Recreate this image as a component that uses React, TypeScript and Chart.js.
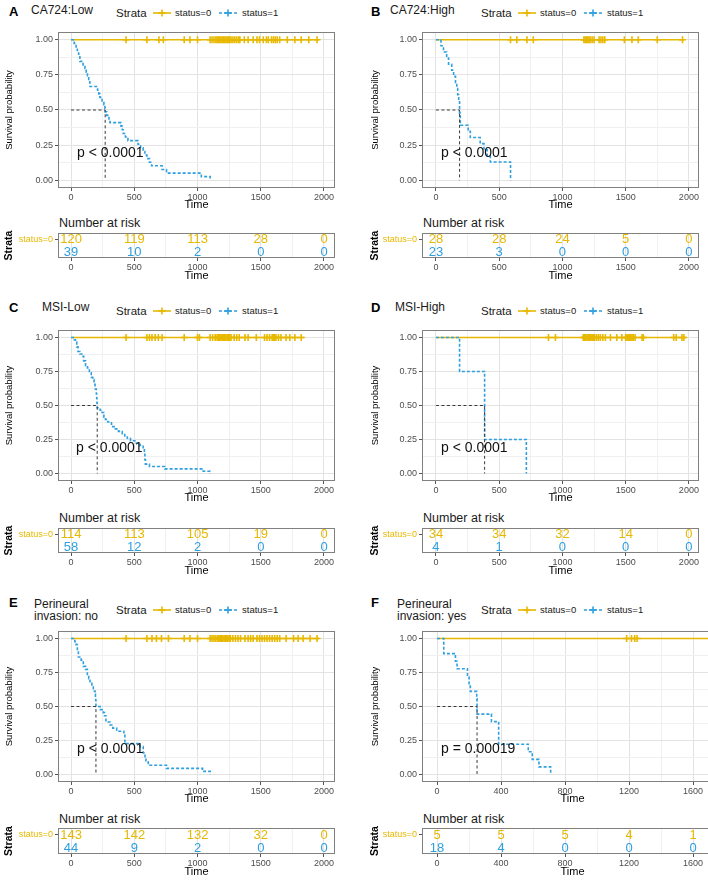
import React, { useEffect, useRef } from 'react';
import { Chart, registerables } from 'chart.js';
Chart.register(...registerables);

const FONT = '"Liberation Sans", Arial, Helvetica, sans-serif';
Chart.defaults.font.family = FONT;

const GOLD = '#E7B800';
const BLUE = '#2E9FDF';
const GRID_MAJOR = '#e3e3e3';
const GRID_MINOR = '#f0f0f0';
const FRAME = '#808080';
const TICK_TEXT = '#4d4d4d';

// ---------- data ----------
const STRATA = ['status=0', 'status=1'];
const TICKS_2000 = [0, 500, 1000, 1500, 2000];
const MINOR_2000 = [250, 750, 1250, 1750];
const TICKS_1600 = [0, 400, 800, 1200, 1600];
const MINOR_1600 = [200, 600, 1000, 1400];
const Y_MAJOR = [0, 0.25, 0.5, 0.75, 1];
const Y_MINOR = [0.125, 0.375, 0.625, 0.875];

// A: CA724 Low
const A_EVENT_TIME = [0, 25, 40, 50, 60, 70, 95, 110, 120, 130, 140, 148, 150, 210, 220, 228, 245, 260, 268, 270, 282, 300, 308, 395, 405, 413, 430, 450, 530, 550, 570, 584, 600, 620, 637, 720, 755, 1030, 1100];
const A_EVENT_SURV = [1, 0.974, 0.949, 0.923, 0.897, 0.846, 0.821, 0.795, 0.769, 0.744, 0.718, 0.692, 0.667, 0.641, 0.615, 0.59, 0.564, 0.538, 0.513, 0.487, 0.462, 0.436, 0.41, 0.385, 0.359, 0.333, 0.308, 0.282, 0.256, 0.231, 0.205, 0.179, 0.154, 0.128, 0.103, 0.077, 0.051, 0.026, 0];
const A_CENSOR = [435, 600, 695, 730, 895, 940, 1000, 1100, 1115, 1130, 1145, 1155, 1165, 1175, 1185, 1195, 1205, 1215, 1225, 1235, 1245, 1255, 1265, 1280, 1295, 1310, 1325, 1335, 1370, 1400, 1440, 1470, 1490, 1520, 1545, 1560, 1585, 1600, 1615, 1630, 1650, 1710, 1770, 1820, 1880, 1945];
const A_S0_END = 1960;
const A_MEDIAN = 270;
const A_RISK0 = [120, 119, 113, 28, 0];
const A_RISK1 = [39, 10, 2, 0, 0];

// B: CA724 High
const B_EVENT_TIME = [0, 40, 60, 85, 100, 125, 140, 155, 165, 172, 180, 187, 193, 255, 272, 350, 380, 405, 430, 590];
const B_EVENT_SURV = [1, 0.957, 0.913, 0.87, 0.826, 0.783, 0.739, 0.696, 0.652, 0.609, 0.565, 0.478, 0.391, 0.348, 0.304, 0.261, 0.217, 0.174, 0.13, 0];
const B_CENSOR = [590, 640, 720, 770, 1170, 1180, 1190, 1200, 1210, 1220, 1235, 1250, 1290, 1305, 1320, 1335, 1490, 1550, 1600, 1750, 1950];
const B_S0_END = 1960;
const B_MEDIAN = 187;
const B_RISK0 = [28, 28, 24, 5, 0];
const B_RISK1 = [23, 3, 0, 0, 0];

// C: MSI Low
const C_EVENT_TIME = [0, 25, 35, 45, 55, 70, 85, 100, 115, 130, 145, 160, 172, 182, 190, 200, 203, 205, 207, 230, 245, 260, 272, 290, 320, 350, 375, 405, 425, 445, 470, 505, 545, 570, 580, 584, 588, 620, 740, 1045, 1100];
const C_EVENT_SURV = [1, 0.983, 0.966, 0.931, 0.897, 0.879, 0.862, 0.828, 0.793, 0.776, 0.741, 0.707, 0.69, 0.655, 0.621, 0.586, 0.552, 0.517, 0.483, 0.466, 0.448, 0.414, 0.397, 0.379, 0.345, 0.328, 0.31, 0.293, 0.276, 0.259, 0.241, 0.224, 0.207, 0.19, 0.155, 0.103, 0.069, 0.052, 0.034, 0.017, 0];
const C_CENSOR = [435, 600, 620, 640, 665, 690, 720, 895, 1000, 1015, 1100, 1120, 1140, 1155, 1165, 1175, 1185, 1195, 1205, 1215, 1225, 1235, 1245, 1255, 1265, 1290, 1310, 1330, 1375, 1400, 1465, 1530, 1550, 1570, 1590, 1600, 1610, 1620, 1640, 1660, 1700, 1730, 1770, 1820];
const C_S0_END = 1845;
const C_MEDIAN = 207;
const C_RISK0 = [114, 113, 105, 19, 0];
const C_RISK1 = [58, 12, 2, 0, 0];

// D: MSI High
const D_EVENT_TIME = [0, 187, 385, 715];
const D_EVENT_SURV = [1, 0.75, 0.25, 0];
const D_CENSOR = [890, 945, 1165, 1175, 1185, 1195, 1205, 1215, 1225, 1235, 1245, 1255, 1270, 1285, 1300, 1320, 1340, 1380, 1430, 1470, 1500, 1510, 1520, 1530, 1540, 1550, 1560, 1575, 1630, 1640, 1880, 1900, 1945, 1960];
const D_S0_END = 1975;
const D_MEDIAN = 385;
const D_RISK0 = [34, 34, 32, 14, 0];
const D_RISK1 = [4, 1, 0, 0, 0];

// E: Perineural invasion no
const E_EVENT_TIME = [0, 30, 40, 50, 58, 80, 97, 115, 129, 140, 150, 165, 176, 190, 193, 195, 197, 230, 255, 265, 276, 308, 330, 361, 418, 426, 545, 571, 585, 592, 611, 755, 1040, 1100];
const E_EVENT_SURV = [1, 0.977, 0.955, 0.909, 0.864, 0.841, 0.795, 0.773, 0.727, 0.705, 0.682, 0.659, 0.614, 0.591, 0.568, 0.545, 0.5, 0.477, 0.455, 0.432, 0.386, 0.364, 0.341, 0.318, 0.295, 0.227, 0.205, 0.159, 0.114, 0.091, 0.068, 0.045, 0.023, 0];
const E_CENSOR = [435, 600, 640, 675, 715, 770, 895, 940, 1000, 1100, 1115, 1130, 1145, 1160, 1170, 1180, 1190, 1200, 1210, 1220, 1230, 1240, 1250, 1260, 1280, 1300, 1320, 1340, 1375, 1400, 1420, 1440, 1470, 1490, 1510, 1530, 1550, 1570, 1590, 1610, 1630, 1650, 1700, 1760, 1795, 1835, 1890, 1945];
const E_S0_END = 1960;
const E_MEDIAN = 197;
const E_RISK0 = [143, 142, 132, 32, 0];
const E_RISK1 = [44, 9, 2, 0, 0];

// F: Perineural invasion yes
const F_EVENT_TIME = [0, 42, 115, 125, 190, 200, 208, 248, 250, 340, 385, 570, 595, 637, 710];
const F_EVENT_SURV = [1, 0.889, 0.833, 0.778, 0.722, 0.667, 0.611, 0.556, 0.444, 0.389, 0.222, 0.167, 0.111, 0.056, 0];
const F_CENSOR = [1185, 1215, 1235, 1250, 1760];
const F_S0_END = 1790;
const F_MEDIAN = 250;
const F_RISK0 = [5, 5, 5, 4, 1];
const F_RISK1 = [18, 4, 0, 0, 0];

const P_SMALL = 'p < 0.0001';
const P_F = 'p = 0.00019';

type Panel = {
  letter: string; title: string[]; evT: number[]; evS: number[]; cens: number[];
  s0End: number; median: number; risk0: number[]; risk1: number[];
  major: number[]; minor: number[]; pText: string; pX: number;
  col: number; row: number; xMin: number; xMax: number; frameW: number; titleX: number;
};

const PANELS: Panel[] = [
  { letter: 'A', title: ['CA724:Low'], evT: A_EVENT_TIME, evS: A_EVENT_SURV, cens: A_CENSOR, s0End: A_S0_END, median: A_MEDIAN, risk0: A_RISK0, risk1: A_RISK1, major: TICKS_2000, minor: MINOR_2000, pText: P_SMALL, pX: 47, col: 0, row: 0, xMin: -103, xMax: 2087, frameW: 277, titleX: 31 },
  { letter: 'B', title: ['CA724:High'], evT: B_EVENT_TIME, evS: B_EVENT_SURV, cens: B_CENSOR, s0End: B_S0_END, median: B_MEDIAN, risk0: B_RISK0, risk1: B_RISK1, major: TICKS_2000, minor: MINOR_2000, pText: P_SMALL, pX: 40, col: 1, row: 0, xMin: -110, xMax: 2080, frameW: 277, titleX: 390 },
  { letter: 'C', title: ['MSI-Low'], evT: C_EVENT_TIME, evS: C_EVENT_SURV, cens: C_CENSOR, s0End: C_S0_END, median: C_MEDIAN, risk0: C_RISK0, risk1: C_RISK1, major: TICKS_2000, minor: MINOR_2000, pText: P_SMALL, pX: 40, col: 0, row: 1, xMin: -103, xMax: 2087, frameW: 277, titleX: 42 },
  { letter: 'D', title: ['MSI-High'], evT: D_EVENT_TIME, evS: D_EVENT_SURV, cens: D_CENSOR, s0End: D_S0_END, median: D_MEDIAN, risk0: D_RISK0, risk1: D_RISK1, major: TICKS_2000, minor: MINOR_2000, pText: P_SMALL, pX: 40, col: 1, row: 1, xMin: -110, xMax: 2080, frameW: 277, titleX: 395 },
  { letter: 'E', title: ['Perineural', 'invasion: no'], evT: E_EVENT_TIME, evS: E_EVENT_SURV, cens: E_CENSOR, s0End: E_S0_END, median: E_MEDIAN, risk0: E_RISK0, risk1: E_RISK1, major: TICKS_2000, minor: MINOR_2000, pText: P_SMALL, pX: 47, col: 0, row: 2, xMin: -103, xMax: 2087, frameW: 277, titleX: 34 },
  { letter: 'F', title: ['Perineural', 'invasion: yes'], evT: F_EVENT_TIME, evS: F_EVENT_SURV, cens: F_CENSOR, s0End: F_S0_END, median: F_MEDIAN, risk0: F_RISK0, risk1: F_RISK1, major: TICKS_1600, minor: MINOR_1600, pText: P_F, pX: 25, col: 1, row: 2, xMin: -94, xMax: 1787, frameW: 301, titleX: 397 },
];

// ---------- layout ----------
const COLS = [
  { canvasLeft: 0, yAxisW: 58, labelX: 9, legendX: 116 },
  { canvasLeft: 366, yAxisW: 56, labelX: 371, legendX: 481 },
];
const ROWS = [
  { labelY: 12, titleY: 10, legendY: 13, frameTop: 32, frameBottom: 188, narY: 223, riskTop: 233, riskBottom: 258 },
  { labelY: 308, titleY: 307, legendY: 311, frameTop: 330, frameBottom: 481, narY: 518, riskTop: 528, riskBottom: 553 },
  { labelY: 603, titleY: 604, legendY: 610, frameTop: 631, frameBottom: 782, narY: 819, riskTop: 828, riskBottom: 854 },
];
const RIGHT_PAD = 20;
const TOP_PAD = 10;

const isMajor = (v: number, major: number[]) => major.some((m) => Math.abs(m - v) < 1e-9);

const framePlugin = {
  id: 'frame',
  afterDatasetsDraw(chart: any) {
    const { ctx, chartArea: a } = chart;
    ctx.save();
    ctx.strokeStyle = FRAME;
    ctx.lineWidth = 1;
    ctx.strokeRect(Math.round(a.left) + 0.5, Math.round(a.top) + 0.5, Math.round(a.right - a.left) - 1, Math.round(a.bottom - a.top) - 1);
    ctx.restore();
  },
};

function xScaleOpts(p: Panel, height: number) {
  const all = [...p.major, ...p.minor].sort((a, b) => a - b);
  return {
    type: 'linear' as const,
    min: p.xMin,
    max: p.xMax,
    afterBuildTicks: (s: any) => { s.ticks = all.map((v) => ({ value: v })); },
    afterFit: (s: any) => { s.height = height; },
    border: { display: false },
    grid: {
      color: (ctx: any) => (ctx.tick && isMajor(ctx.tick.value, p.major) ? GRID_MAJOR : GRID_MINOR),
      tickColor: (ctx: any) => (ctx.tick && isMajor(ctx.tick.value, p.major) ? '#555555' : 'rgba(0,0,0,0)'),
      tickLength: 3,
    },
    ticks: {
      autoSkip: false, maxRotation: 0, padding: 1, color: TICK_TEXT,
      font: { size: 9, family: FONT },
      callback: (v: any) => (isMajor(Number(v), p.major) ? String(v) : ''),
    },
    title: { display: true, text: 'Time', color: '#000', font: { size: 11, family: FONT }, padding: { top: 0, bottom: 1 } },
  };
}

function KMChart({ p }: { p: Panel }) {
  const ref = useRef<HTMLCanvasElement>(null);
  const c = COLS[p.col];
  const r = ROWS[p.row];
  const top = r.frameTop - TOP_PAD;
  const H = r.frameBottom - r.frameTop + TOP_PAD + 25;
  const W = c.yAxisW + p.frameW + RIGHT_PAD;
  useEffect(() => {
    const evData = p.evT.map((t, i) => ({ x: t, y: p.evS[i] }));
    const cens = p.cens.map((t) => ({ x: t, y: 1 }));
    const s0 = [{ x: 0, y: 1 }, { x: p.s0End, y: 1 }];
    const med = [{ x: 0, y: 0.5 }, { x: p.median, y: 0.5 }, { x: p.median, y: 0 }];
    const yAll = [...Y_MAJOR, ...Y_MINOR].sort((a, b) => a - b);
    const pPlugin = {
      id: 'pval',
      afterDatasetsDraw(chart: any) {
        const { ctx, scales } = chart;
        ctx.save();
        ctx.font = `14px ${FONT}`;
        ctx.fillStyle = '#111';
        ctx.textAlign = 'left';
        ctx.textBaseline = 'middle';
        ctx.fillText(p.pText, scales.x.getPixelForValue(p.pX), scales.y.getPixelForValue(0.19));
        ctx.restore();
      },
    };
    const chart = new Chart(ref.current as HTMLCanvasElement, {
      type: 'line',
      data: {
        datasets: [
          { data: med, borderColor: '#3a3a3a', borderWidth: 1, borderDash: [3, 2.5], pointRadius: 0, fill: false, tension: 0 } as any,
          { data: evData, stepped: 'before', borderColor: BLUE, borderWidth: 1.6, borderDash: [3, 2], pointRadius: 0, fill: false } as any,
          { data: cens, showLine: false, pointStyle: 'cross', pointRadius: 3.5, pointBorderWidth: 1.6, pointBorderColor: GOLD, borderColor: GOLD, backgroundColor: GOLD } as any,
          { data: s0, borderColor: GOLD, borderWidth: 1.6, pointRadius: 0, fill: false } as any,
        ],
      },
      options: {
        responsive: false, animation: false, events: [],
        layout: { padding: { top: TOP_PAD, right: RIGHT_PAD, left: 0, bottom: 0 } },
        plugins: { legend: { display: false }, tooltip: { enabled: false } },
        scales: {
          x: xScaleOpts(p, 25) as any,
          y: {
            type: 'linear', min: -0.055, max: 1.055,
            afterBuildTicks: (s: any) => { s.ticks = yAll.map((v) => ({ value: v })); },
            afterFit: (s: any) => { s.width = c.yAxisW; },
            border: { display: false },
            grid: {
              color: (ctx: any) => (ctx.tick && isMajor(ctx.tick.value, Y_MAJOR) ? GRID_MAJOR : GRID_MINOR),
              tickColor: (ctx: any) => (ctx.tick && isMajor(ctx.tick.value, Y_MAJOR) ? '#555555' : 'rgba(0,0,0,0)'),
              tickLength: 3,
            },
            ticks: {
              autoSkip: false, padding: 2, color: TICK_TEXT, font: { size: 9, family: FONT },
              callback: (v: any) => (isMajor(Number(v), Y_MAJOR) ? Number(v).toFixed(2) : ''),
            },
            title: { display: true, text: 'Survival probability', color: '#000', font: { size: 9.5, family: FONT }, padding: { top: 4, bottom: 0 } },
          } as any,
        },
      },
      plugins: [framePlugin, pPlugin],
    });
    return () => chart.destroy();
  }, []);
  return <canvas ref={ref} width={W} height={H} style={{ position: 'absolute', left: c.canvasLeft, top, width: W, height: H }} />;
}

function RiskChart({ p }: { p: Panel }) {
  const ref = useRef<HTMLCanvasElement>(null);
  const c = COLS[p.col];
  const r = ROWS[p.row];
  const top = r.riskTop - TOP_PAD;
  const H = r.riskBottom - r.riskTop + TOP_PAD + 26;
  const W = c.yAxisW + p.frameW + RIGHT_PAD;
  useEffect(() => {
    const rows = [p.risk0, p.risk1];
    const numPlugin = {
      id: 'risknum',
      afterDatasetsDraw(chart: any) {
        const { ctx, scales } = chart;
        ctx.save();
        ctx.font = `13px ${FONT}`;
        ctx.textAlign = 'center';
        ctx.textBaseline = 'middle';
        rows.forEach((vals, ri) => {
          ctx.fillStyle = ri === 0 ? GOLD : BLUE;
          vals.forEach((v, i) => {
            ctx.fillText(String(v), scales.x.getPixelForValue(p.major[i]), scales.y.getPixelForValue(ri) + 0.5);
          });
        });
        ctx.restore();
      },
    };
    const chart = new Chart(ref.current as HTMLCanvasElement, {
      type: 'scatter',
      data: { datasets: [{ data: [] }] },
      options: {
        responsive: false, animation: false, events: [],
        layout: { padding: { top: TOP_PAD, right: RIGHT_PAD, left: 0, bottom: 0 } },
        plugins: { legend: { display: false }, tooltip: { enabled: false } },
        scales: {
          x: xScaleOpts(p, 26) as any,
          y: {
            type: 'category', labels: STRATA, offset: true,
            afterFit: (s: any) => { s.width = c.yAxisW; },
            border: { display: false },
            grid: { drawOnChartArea: false, tickColor: '#555555', tickLength: 3 },
            ticks: {
              padding: 2, font: { size: 9, family: FONT },
              color: (ctx: any) => (ctx.index === 0 ? GOLD : BLUE),
            },
            title: { display: true, text: 'Strata', color: '#000', font: { size: 10.5, weight: 'bold', family: FONT }, padding: { top: 3, bottom: 0 } },
          } as any,
        },
      },
      plugins: [framePlugin, numPlugin],
    });
    return () => chart.destroy();
  }, []);
  return <canvas ref={ref} width={W} height={H} style={{ position: 'absolute', left: c.canvasLeft, top, width: W, height: H }} />;
}

function Txt({ x, y, size, children, bold, color }: any) {
  return (
    <div style={{ position: 'absolute', left: x, top: y - 8, height: 16, lineHeight: '16px', fontSize: size, fontWeight: bold ? 'bold' : 'normal', color: color || '#1a1a1a', whiteSpace: 'nowrap', fontFamily: FONT }}>
      {children}
    </div>
  );
}

function Key({ x, y, color, dashed }: any) {
  return (
    <svg width={18} height={10} style={{ position: 'absolute', left: x, top: y - 5 }}>
      <line x1={0} y1={5} x2={18} y2={5} stroke={color} strokeWidth={1.6} strokeDasharray={dashed ? '3 2' : undefined} />
      <line x1={9} y1={1.5} x2={9} y2={8.5} stroke={color} strokeWidth={1.6} />
      <line x1={5.5} y1={5} x2={12.5} y2={5} stroke={color} strokeWidth={1.6} />
    </svg>
  );
}

function PanelView({ p }: { p: Panel }) {
  const c = COLS[p.col];
  const r = ROWS[p.row];
  const lx = c.legendX;
  const frameLeft = c.canvasLeft + c.yAxisW;
  return (
    <>
      <Txt x={c.labelX} y={r.labelY} size={13} bold color="#000">{p.letter}</Txt>
      {p.title.map((t, i) => (
        <Txt key={i} x={p.titleX} y={r.titleY + i * 12} size={12}>{t}</Txt>
      ))}
      <Txt x={lx} y={r.legendY} size={11.5}>Strata</Txt>
      <Key x={lx + 37} y={r.legendY} color={GOLD} dashed={false} />
      <Txt x={lx + 59} y={r.legendY} size={9.5}>{STRATA[0]}</Txt>
      <Key x={lx + 103} y={r.legendY} color={BLUE} dashed />
      <Txt x={lx + 126} y={r.legendY} size={9.5}>{STRATA[1]}</Txt>
      <KMChart p={p} />
      <Txt x={frameLeft + 1} y={r.narY} size={12.5}>Number at risk</Txt>
      <RiskChart p={p} />
    </>
  );
}

export default function App() {
  return (
    <div style={{ position: 'absolute', left: 0, top: 0, width: 708, height: 880, overflow: 'hidden', background: '#fff' }}>
      {PANELS.map((p) => (
        <PanelView key={p.letter} p={p} />
      ))}
    </div>
  );
}
